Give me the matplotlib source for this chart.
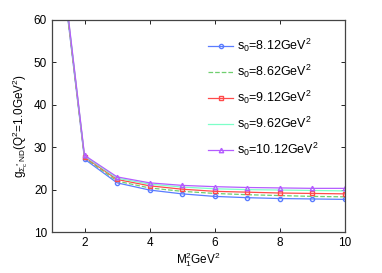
import matplotlib.pyplot as plt

plt.rcParams['font.family'] = ['Liberation Sans', 'DejaVu Sans']
plt.rcParams['mathtext.default'] = 'regular'

# M1^2 values (GeV^2)
m2 = [1, 2, 3, 4, 5, 6, 7, 8, 9, 10]

# coupling for each threshold s0
g_812 = [92.0, 27.2, 21.6, 19.9, 19.0, 18.4, 18.1, 17.9, 17.8, 17.7]
g_862 = [92.4, 27.5, 22.0, 20.4, 19.6, 19.1, 18.8, 18.6, 18.4, 18.3]
g_912 = [92.8, 27.7, 22.4, 20.9, 20.1, 19.6, 19.4, 19.2, 19.1, 19.0]
g_962 = [93.2, 27.9, 22.7, 21.3, 20.6, 20.2, 20.0, 19.9, 19.8, 19.7]
g_1012 = [93.6, 28.1, 23.0, 21.6, 21.0, 20.7, 20.5, 20.4, 20.3, 20.3]

labels = ['s$_0$=8.12GeV$^2$', 's$_0$=8.62GeV$^2$', 's$_0$=9.12GeV$^2$',
          's$_0$=9.62GeV$^2$', 's$_0$=10.12GeV$^2$']

fig = plt.figure(figsize=(3.82, 2.73), dpi=100)
ax = fig.add_axes([0.136, 0.15, 0.767, 0.777])

ax.plot(m2, g_812, color='#5a7cff', marker='o', ms=3, mfc='none', lw=0.9, label=labels[0])
ax.plot(m2, g_862, color='#6fcf6f', ls='--', lw=0.9, label=labels[1])
ax.plot(m2, g_912, color='#ff4a4a', marker='s', ms=2.6, mfc='none', lw=0.9, label=labels[2])
ax.plot(m2, g_962, color='#7dffc8', lw=0.9, label=labels[3])
ax.plot(m2, g_1012, color='#b45cff', marker='^', ms=3.2, mfc='none', lw=0.9, label=labels[4])

ax.set_xlim(1, 10)
ax.set_ylim(10, 60)
ax.set_xticks([2, 4, 6, 8, 10])
ax.set_yticks([10, 20, 30, 40, 50, 60])
ax.tick_params(direction='in', top=True, right=True, labelsize=8.5, length=3, width=0.6)
for s in ax.spines.values():
    s.set_color('#444444')
    s.set_linewidth(0.9)

ax.set_xlabel('M$_1^2$GeV$^2$', fontsize=8.5, labelpad=1)
ax.set_ylabel('g$_{\\Sigma_c^* ND}$(Q$^2$=1.0GeV$^2$)', fontsize=8.5, labelpad=3)

ax.legend(loc='upper left', bbox_to_anchor=(208 / 382, 1 - 37 / 273),
          bbox_transform=fig.transFigure, frameon=False, fontsize=9,
          handlelength=2.0, labelspacing=0.7, borderaxespad=0, borderpad=0,
          handletextpad=0.35)

fig.savefig('out.png', dpi=100)
